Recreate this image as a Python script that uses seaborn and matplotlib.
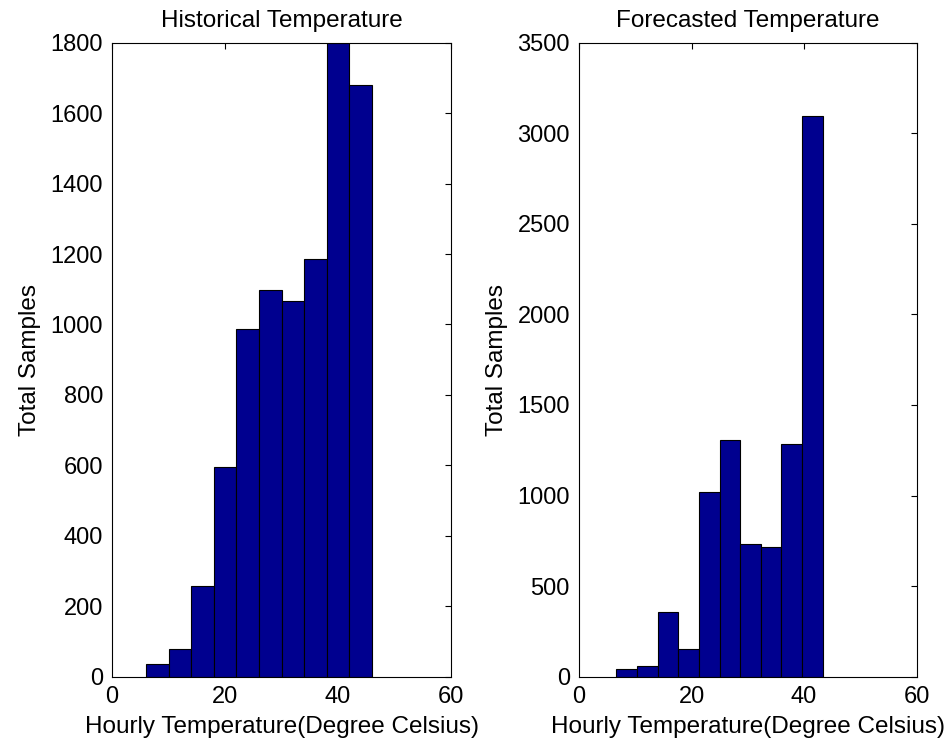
import numpy as np
import pandas as pd
import seaborn as sns
import matplotlib
matplotlib.use("Agg")
import matplotlib.pyplot as plt

# bin edges and counts
hist_edges = [6, 10, 14, 18, 22, 26, 30, 34, 38, 42, 46]
hist_counts = [36, 78, 258, 594, 986, 1097, 1066, 1187, 1800, 1680]

fcst_edges = [6.62, 10.29, 13.96, 17.63, 21.30, 24.97, 28.64, 32.31, 35.98, 39.65, 43.32]
fcst_counts = [40, 60, 358, 153, 1020, 1308, 734, 715, 1287, 3097]

titles = ["Historical Temperature", "Forecasted Temperature"]
y_limits = [(0, 1800), (0, 3500)]
y_steps = [200, 500]

sns.set_theme(style="white")
plt.rcParams["font.family"] = ["Liberation Sans", "DejaVu Sans"]
plt.rcParams["text.color"] = "black"
plt.rcParams["axes.labelcolor"] = "black"

fig = plt.figure(figsize=(9.46, 7.49), dpi=100)
ax1 = fig.add_axes([0.1184, 0.0965, 0.3584, 0.8465])
ax2 = fig.add_axes([0.612, 0.0965, 0.3570, 0.8465])

panels = [(ax1, hist_edges, hist_counts), (ax2, fcst_edges, fcst_counts)]
for i, (ax, edges, counts) in enumerate(panels):
    e = np.array(edges)
    df = pd.DataFrame({"temp": (e[:-1] + e[1:]) / 2, "n": counts})
    sns.histplot(data=df, x="temp", weights="n", bins=list(edges), ax=ax,
                 color="#00008F", edgecolor="black", linewidth=0.8, alpha=1)
    ax.set_xlim(0, 60)
    ax.set_ylim(*y_limits[i])
    ax.set_xticks([0, 20, 40, 60])
    ax.set_yticks(np.arange(0, y_limits[i][1] + 1, y_steps[i]))
    ax.set_title(titles[i], fontsize=17.5, pad=11)
    ax.set_xlabel("Hourly Temperature(Degree Celsius)", fontsize=17.5, labelpad=6)
    ax.set_ylabel("Total Samples", fontsize=17.5, labelpad=7)
    ax.tick_params(direction="in", length=4, width=0.8, top=True, right=True,
                   labelsize=17, colors="black")
    ax.tick_params(axis="y", pad=6.5)
    ax.tick_params(axis="x", pad=6.5)
    for s in ax.spines.values():
        s.set_visible(True)
        s.set_color("black")
        s.set_linewidth(0.8)

fig.savefig("out.png", dpi=100, facecolor="white")
